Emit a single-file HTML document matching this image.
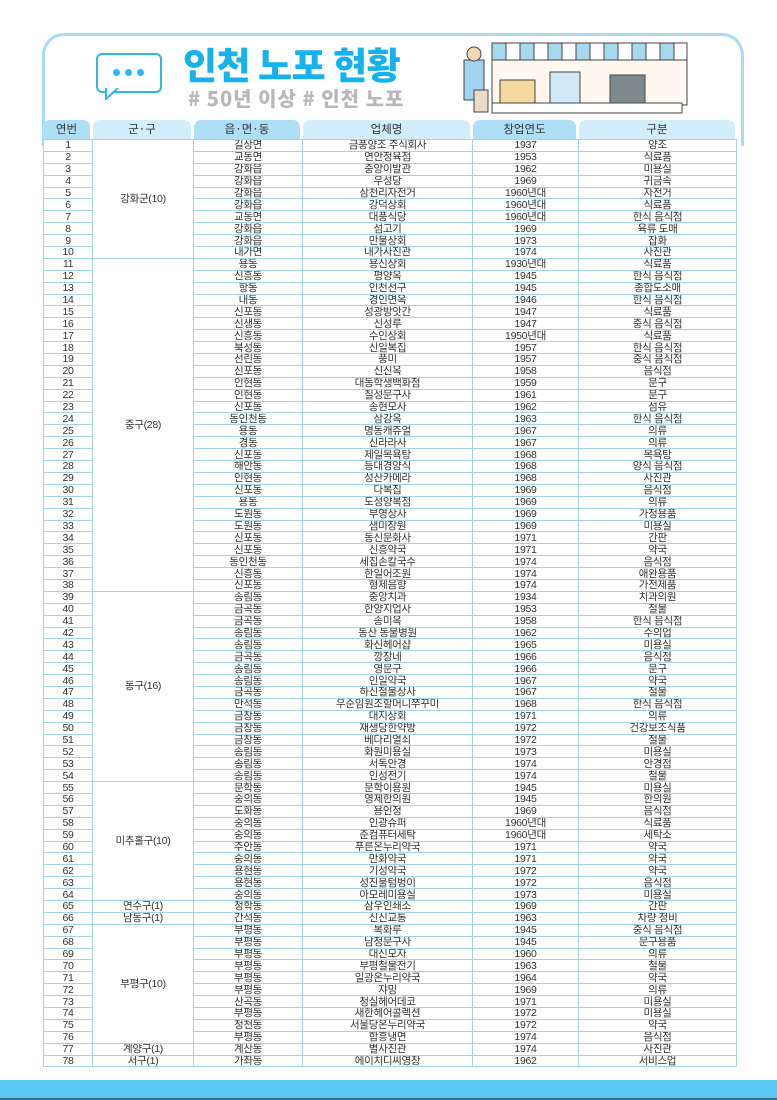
<!DOCTYPE html>
<html><head><meta charset="utf-8">
<style>
html,body{margin:0;padding:0;}
body{width:777px;height:1100px;position:relative;background:#fff;overflow:hidden;font-family:"Liberation Sans","Noto Sans CJK KR",sans-serif;}
.frame{position:absolute;left:42px;top:33px;width:696px;height:110px;border:3px solid #a9dcf4;border-bottom:none;border-radius:22px 22px 0 0;}
.title{position:absolute;left:183px;top:36px;font-size:37px;font-weight:900;color:#16b2ee;letter-spacing:-0.5px;font-family:"Noto Sans CJK KR",sans-serif;}
.sub{position:absolute;left:188px;top:83px;font-size:20px;font-weight:900;color:#b8b8b8;letter-spacing:1px;font-family:"Noto Sans CJK KR",sans-serif;}
.bubble{position:absolute;left:96px;top:53px;width:62px;height:36px;border:2px solid #2fb6ee;border-radius:6px;background:#fff;}
.bubble span{position:absolute;top:14px;width:7px;height:7px;border-radius:50%;background:#2fb6ee;}
.bar{position:absolute;left:0;top:1080px;width:777px;height:18px;background:#5ac8f2;border-bottom:2px solid #2a6f86;}
.hdr{position:absolute;top:120px;height:19px;border-radius:7px 7px 0 0;font-size:11.5px;color:#333;text-align:center;line-height:19px;font-family:"Noto Sans CJK KR",sans-serif;}
table{position:absolute;left:43px;top:139px;border-collapse:collapse;table-layout:fixed;width:693px;background:#fff;}
td{border:1px solid #a5d3e3;padding:0;height:10.9px;line-height:10px;font-size:10.5px;color:#333;text-align:center;overflow:hidden;white-space:nowrap;font-family:"Liberation Sans","Noto Sans CJK KR",sans-serif;letter-spacing:-0.3px;}
td.g{vertical-align:middle;}
</style></head><body>
<div class="frame"></div>
<div class="bubble"><span style="left:15px"></span><span style="left:27px"></span><span style="left:39px"></span></div>
<svg style="position:absolute;left:102px;top:88px" width="20" height="12"><path d="M4 0 L4 11 L16 0" fill="#fff" stroke="#2fb6ee" stroke-width="2"/></svg>
<div class="title">인천 노포 현황</div>
<div class="sub"># 50년 이상 # 인천 노포</div>
<svg style="position:absolute;left:450px;top:40px" width="240" height="76">
<g stroke="#444" stroke-width="1">
<rect x="42" y="20" width="195" height="45" fill="#fff8ee"/>
<rect x="42" y="3" width="14" height="17" fill="#a8d8f0"/><rect x="56" y="3" width="14" height="17" fill="#fff"/><rect x="70" y="3" width="14" height="17" fill="#a8d8f0"/><rect x="84" y="3" width="14" height="17" fill="#fff"/><rect x="98" y="3" width="14" height="17" fill="#a8d8f0"/><rect x="112" y="3" width="14" height="17" fill="#fff"/><rect x="126" y="3" width="14" height="17" fill="#a8d8f0"/><rect x="140" y="3" width="14" height="17" fill="#fff"/><rect x="154" y="3" width="14" height="17" fill="#a8d8f0"/><rect x="168" y="3" width="14" height="17" fill="#fff"/><rect x="182" y="3" width="14" height="17" fill="#a8d8f0"/><rect x="196" y="3" width="14" height="17" fill="#fff"/><rect x="210" y="3" width="14" height="17" fill="#a8d8f0"/><rect x="224" y="3" width="13" height="17" fill="#fff"/>
<rect x="42" y="63" width="190" height="10" fill="#fff"/>
<rect x="14" y="20" width="20" height="40" fill="#9fd3ef"/>
<circle cx="24" cy="14" r="7" fill="#f3d7b5"/>
<rect x="50" y="40" width="35" height="23" fill="#f6d9a0"/>
<rect x="100" y="32" width="30" height="31" fill="#cfe9f7"/>
<rect x="160" y="35" width="35" height="28" fill="#7f8a8f"/>
<rect x="24" y="50" width="14" height="22" fill="#e8dcc8"/>
</g>
</svg>
<div class="hdr" style="left:43px;width:47px;background:#aedff6">연번</div>
<div class="hdr" style="left:93px;width:98px;background:#d3eefb">군·구</div>
<div class="hdr" style="left:194px;width:106px;background:#aedff6">읍·면·동</div>
<div class="hdr" style="left:303px;width:167px;background:#d3eefb">업체명</div>
<div class="hdr" style="left:473px;width:103px;background:#aedff6">창업연도</div>
<div class="hdr" style="left:579px;width:156px;background:#d3eefb">구분</div>
<table>
<colgroup><col style="width:49px"><col style="width:101px"><col style="width:109px"><col style="width:170px"><col style="width:106px"><col style="width:158px"></colgroup>
<tr><td>1</td><td class="g" rowspan="10">강화군(10)</td><td>길상면</td><td>금풍양조 주식회사</td><td>1937</td><td>양조</td></tr>
<tr><td>2</td><td>교동면</td><td>연안정육점</td><td>1953</td><td>식료품</td></tr>
<tr><td>3</td><td>강화읍</td><td>중앙이발관</td><td>1962</td><td>미용실</td></tr>
<tr><td>4</td><td>강화읍</td><td>우성당</td><td>1969</td><td>귀금속</td></tr>
<tr><td>5</td><td>강화읍</td><td>삼천리자전거</td><td>1960년대</td><td>자전거</td></tr>
<tr><td>6</td><td>강화읍</td><td>강덕상회</td><td>1960년대</td><td>식료품</td></tr>
<tr><td>7</td><td>교동면</td><td>대풍식당</td><td>1960년대</td><td>한식 음식점</td></tr>
<tr><td>8</td><td>강화읍</td><td>섬고기</td><td>1969</td><td>육류 도매</td></tr>
<tr><td>9</td><td>강화읍</td><td>만물상회</td><td>1973</td><td>잡화</td></tr>
<tr><td>10</td><td>내가면</td><td>내가사진관</td><td>1974</td><td>사진관</td></tr>
<tr><td>11</td><td class="g" rowspan="28">중구(28)</td><td>용동</td><td>용신상회</td><td>1930년대</td><td>식료품</td></tr>
<tr><td>12</td><td>신흥동</td><td>평양옥</td><td>1945</td><td>한식 음식점</td></tr>
<tr><td>13</td><td>항동</td><td>인천선구</td><td>1945</td><td>종합도소매</td></tr>
<tr><td>14</td><td>내동</td><td>경인면옥</td><td>1946</td><td>한식 음식점</td></tr>
<tr><td>15</td><td>신포동</td><td>성광방앗간</td><td>1947</td><td>식료품</td></tr>
<tr><td>16</td><td>신생동</td><td>신성루</td><td>1947</td><td>중식 음식점</td></tr>
<tr><td>17</td><td>신흥동</td><td>수인상회</td><td>1950년대</td><td>식료품</td></tr>
<tr><td>18</td><td>북성동</td><td>신일복집</td><td>1957</td><td>한식 음식점</td></tr>
<tr><td>19</td><td>선린동</td><td>풍미</td><td>1957</td><td>중식 음식점</td></tr>
<tr><td>20</td><td>신포동</td><td>신신옥</td><td>1958</td><td>음식점</td></tr>
<tr><td>21</td><td>인현동</td><td>대동학생백화점</td><td>1959</td><td>문구</td></tr>
<tr><td>22</td><td>인현동</td><td>칠성문구사</td><td>1961</td><td>문구</td></tr>
<tr><td>23</td><td>신포동</td><td>송현모사</td><td>1962</td><td>섬유</td></tr>
<tr><td>24</td><td>동인천동</td><td>삼강옥</td><td>1963</td><td>한식 음식점</td></tr>
<tr><td>25</td><td>용동</td><td>명동캐쥬얼</td><td>1967</td><td>의류</td></tr>
<tr><td>26</td><td>경동</td><td>신라라사</td><td>1967</td><td>의류</td></tr>
<tr><td>27</td><td>신포동</td><td>제일목욕탕</td><td>1968</td><td>목욕탕</td></tr>
<tr><td>28</td><td>해안동</td><td>등대경양식</td><td>1968</td><td>양식 음식점</td></tr>
<tr><td>29</td><td>인현동</td><td>성산카메라</td><td>1968</td><td>사진관</td></tr>
<tr><td>30</td><td>신포동</td><td>다복집</td><td>1969</td><td>음식점</td></tr>
<tr><td>31</td><td>용동</td><td>도성양복점</td><td>1969</td><td>의류</td></tr>
<tr><td>32</td><td>도원동</td><td>부영상사</td><td>1969</td><td>가정용품</td></tr>
<tr><td>33</td><td>도원동</td><td>샘미장원</td><td>1969</td><td>미용실</td></tr>
<tr><td>34</td><td>신포동</td><td>동신문화사</td><td>1971</td><td>간판</td></tr>
<tr><td>35</td><td>신포동</td><td>신흥약국</td><td>1971</td><td>약국</td></tr>
<tr><td>36</td><td>동인천동</td><td>세집손칼국수</td><td>1974</td><td>음식점</td></tr>
<tr><td>37</td><td>신흥동</td><td>한일어조원</td><td>1974</td><td>애완용품</td></tr>
<tr><td>38</td><td>신포동</td><td>형제음향</td><td>1974</td><td>가전제품</td></tr>
<tr><td>39</td><td class="g" rowspan="16">동구(16)</td><td>송림동</td><td>중앙치과</td><td>1934</td><td>치과의원</td></tr>
<tr><td>40</td><td>금곡동</td><td>한양지업사</td><td>1953</td><td>철물</td></tr>
<tr><td>41</td><td>금곡동</td><td>송미옥</td><td>1958</td><td>한식 음식점</td></tr>
<tr><td>42</td><td>송림동</td><td>동산 동물병원</td><td>1962</td><td>수의업</td></tr>
<tr><td>43</td><td>송림동</td><td>화신헤어샵</td><td>1965</td><td>미용실</td></tr>
<tr><td>44</td><td>금곡동</td><td>깡장네</td><td>1966</td><td>음식점</td></tr>
<tr><td>45</td><td>송림동</td><td>영문구</td><td>1966</td><td>문구</td></tr>
<tr><td>46</td><td>송림동</td><td>인일약국</td><td>1967</td><td>약국</td></tr>
<tr><td>47</td><td>금곡동</td><td>하신철물상사</td><td>1967</td><td>철물</td></tr>
<tr><td>48</td><td>만석동</td><td>우순임원조할머니쭈꾸미</td><td>1968</td><td>한식 음식점</td></tr>
<tr><td>49</td><td>금창동</td><td>대지상회</td><td>1971</td><td>의류</td></tr>
<tr><td>50</td><td>금창동</td><td>재생당한약방</td><td>1972</td><td>건강보조식품</td></tr>
<tr><td>51</td><td>금창동</td><td>베다리열쇠</td><td>1972</td><td>철물</td></tr>
<tr><td>52</td><td>송림동</td><td>화원미용실</td><td>1973</td><td>미용실</td></tr>
<tr><td>53</td><td>송림동</td><td>서독안경</td><td>1974</td><td>안경점</td></tr>
<tr><td>54</td><td>송림동</td><td>인성전기</td><td>1974</td><td>철물</td></tr>
<tr><td>55</td><td class="g" rowspan="10">미추홀구(10)</td><td>문학동</td><td>문학이용원</td><td>1945</td><td>미용실</td></tr>
<tr><td>56</td><td>숭의동</td><td>영제한의원</td><td>1945</td><td>한의원</td></tr>
<tr><td>57</td><td>도화동</td><td>용인정</td><td>1969</td><td>음식점</td></tr>
<tr><td>58</td><td>숭의동</td><td>인광슈퍼</td><td>1960년대</td><td>식료품</td></tr>
<tr><td>59</td><td>숭의동</td><td>준컴퓨터세탁</td><td>1960년대</td><td>세탁소</td></tr>
<tr><td>60</td><td>주안동</td><td>푸른온누리약국</td><td>1971</td><td>약국</td></tr>
<tr><td>61</td><td>숭의동</td><td>만화약국</td><td>1971</td><td>약국</td></tr>
<tr><td>62</td><td>용현동</td><td>기성약국</td><td>1972</td><td>약국</td></tr>
<tr><td>63</td><td>용현동</td><td>성진물텀벙이</td><td>1972</td><td>음식점</td></tr>
<tr><td>64</td><td>숭의동</td><td>아모레미용실</td><td>1973</td><td>미용실</td></tr>
<tr><td>65</td><td>연수구(1)</td><td>청학동</td><td>삼우인쇄소</td><td>1969</td><td>간판</td></tr>
<tr><td>66</td><td>남동구(1)</td><td>간석동</td><td>신신교통</td><td>1963</td><td>차량 정비</td></tr>
<tr><td>67</td><td class="g" rowspan="10">부평구(10)</td><td>부평동</td><td>복화루</td><td>1945</td><td>중식 음식점</td></tr>
<tr><td>68</td><td>부평동</td><td>남정문구사</td><td>1945</td><td>문구용품</td></tr>
<tr><td>69</td><td>부평동</td><td>대신모자</td><td>1960</td><td>의류</td></tr>
<tr><td>70</td><td>부평동</td><td>부평철물전기</td><td>1963</td><td>철물</td></tr>
<tr><td>71</td><td>부평동</td><td>일광온누리약국</td><td>1964</td><td>약국</td></tr>
<tr><td>72</td><td>부평동</td><td>쟈밍</td><td>1969</td><td>의류</td></tr>
<tr><td>73</td><td>산곡동</td><td>청실헤어데코</td><td>1971</td><td>미용실</td></tr>
<tr><td>74</td><td>부평동</td><td>새한헤어콜렉션</td><td>1972</td><td>미용실</td></tr>
<tr><td>75</td><td>청천동</td><td>서울당온누리약국</td><td>1972</td><td>약국</td></tr>
<tr><td>76</td><td>부평동</td><td>함흥냉면</td><td>1974</td><td>음식점</td></tr>
<tr><td>77</td><td>계양구(1)</td><td>계산동</td><td>별사진관</td><td>1974</td><td>사진관</td></tr>
<tr><td>78</td><td>서구(1)</td><td>가좌동</td><td>에이치디씨영창</td><td>1962</td><td>서비스업</td></tr>
</table>
<div class="bar"></div>
</body></html>
